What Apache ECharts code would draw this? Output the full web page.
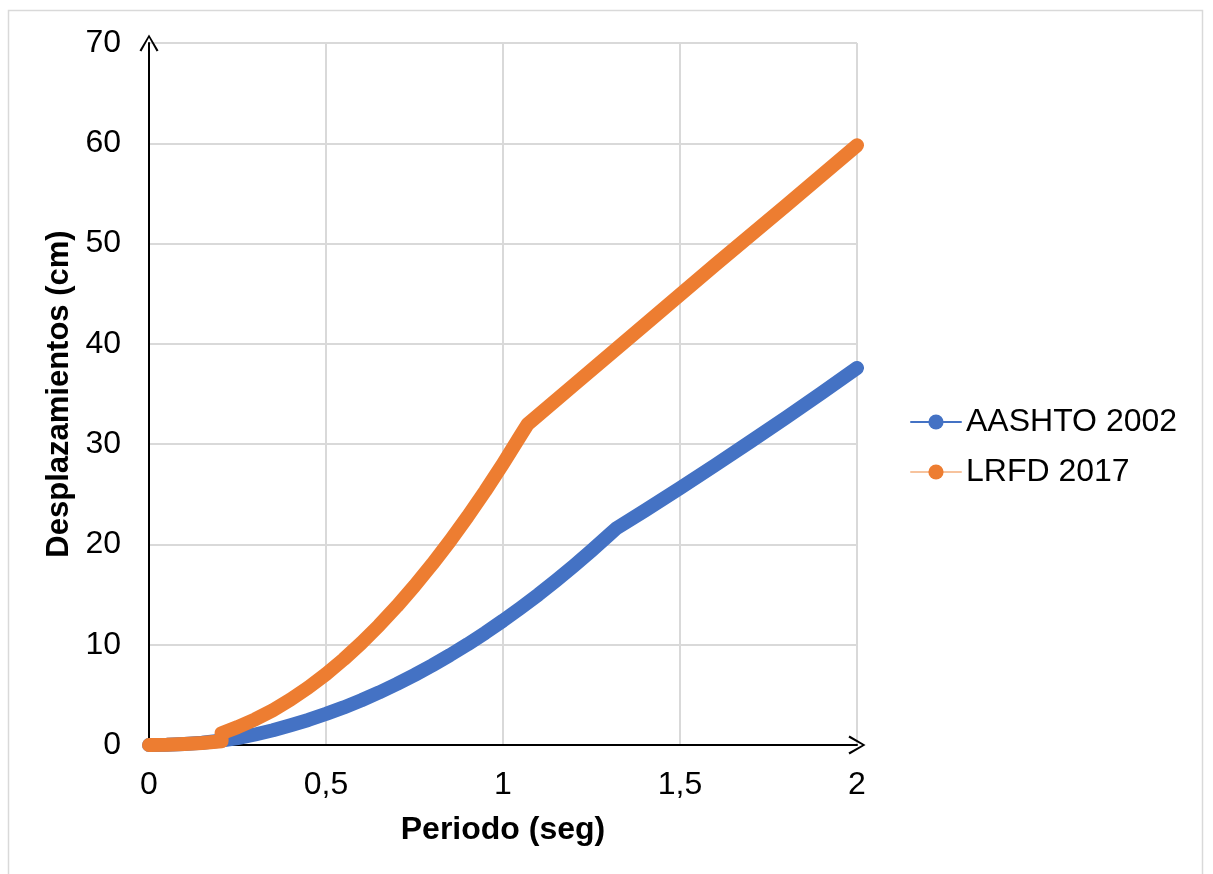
<!DOCTYPE html>
<html>
<head>
<meta charset="utf-8">
<title>Desplazamientos vs Periodo</title>
<script src="https://cdn.jsdelivr.net/npm/echarts@6/dist/echarts.min.js"></script>
<style>
  html, body { margin: 0; padding: 0; background: #ffffff; }
  #chart { width: 1213px; height: 874px; }
</style>
</head>
<body>
<div id="chart"></div>
<script>
// Spectral displacement (cm) against structural period (s)
const seriesNames = ['AASHTO 2002', 'LRFD 2017'];

const aashtoPeriod = [0, 0.05, 0.1, 0.15, 0.2, 0.25, 0.3, 0.35, 0.4, 0.45, 0.5, 0.55, 0.6, 0.65, 0.7, 0.75,
  0.8, 0.85, 0.9, 0.95, 1.0, 1.05, 1.1, 1.15, 1.2, 1.25, 1.3, 1.32, 1.4, 1.5, 1.6, 1.7, 1.8, 1.9, 2.0];
const aashtoDispl = [0, 0.03, 0.1, 0.22, 0.42, 0.68, 1.05, 1.47, 1.97, 2.5, 3.1, 3.75, 4.46, 5.24, 6.08, 6.98,
  7.94, 8.96, 10.04, 11.19, 12.4, 13.67, 15.0, 16.4, 17.86, 19.38, 20.96, 21.6, 23.36, 25.61, 27.92, 30.27, 32.66, 35.1, 37.6];

const lrfdPeriod = [0, 0.05, 0.1, 0.15, 0.205, 0.205, 0.25, 0.3, 0.35, 0.4, 0.45, 0.5, 0.55, 0.6, 0.65, 0.7, 0.75,
  0.8, 0.85, 0.9, 0.95, 1.0, 1.05, 1.07, 1.2, 1.4, 1.6, 1.8, 2.0];
const lrfdDispl = [0, 0.03, 0.1, 0.2, 0.38, 1.17, 1.78, 2.56, 3.47, 4.53, 5.73, 7.07, 8.55, 10.17, 11.93, 13.83, 15.86,
  18.03, 20.33, 22.77, 25.34, 28.05, 30.88, 32.0, 35.9, 41.9, 47.9, 53.8, 59.8];

const xTickValues = [0, 0.5, 1, 1.5, 2];
const xTickLabels = ['0', '0,5', '1', '1,5', '2'];

const xTitle = 'Periodo (seg)';
const yTitle = 'Desplazamientos (cm)';

const colors = ['#4472C4', '#ED7D31'];
const legendLineColors = ['#4472C4', '#F7C39D'];

const font = '"Liberation Sans", Arial, sans-serif';

function pairs(xs, ys) {
  return xs.map((x, i) => [x, ys[i]]);
}

// open chevron used for the axis arrow heads
const chevron = 'path://M10,0 L20,16.8 L18,18 L10,3.6 L2,18 L0,16.8 Z';

const chart = echarts.init(document.getElementById('chart'), null, { renderer: 'canvas' });

chart.setOption({
  backgroundColor: '#ffffff',
  animation: false,
  graphic: [{
    type: 'rect',
    shape: { x: 8.5, y: 10.5, width: 1194, height: 900 },
    style: { fill: 'none', stroke: '#d9d9d9', lineWidth: 1.5 },
    silent: true,
    z: -10
  }],
  grid: { left: 149, right: 356, top: 43, bottom: 129, containLabel: false },
  legend: {
    orient: 'vertical',
    left: 905,
    top: 401,
    itemWidth: 50,
    itemHeight: 19,
    itemGap: 18,
    textStyle: { fontFamily: font, fontSize: 32, color: '#000' },
    data: seriesNames.map((n, i) => ({
      name: n,
      lineStyle: { color: legendLineColors[i], width: 2 },
      itemStyle: { color: colors[i] }
    }))
  },
  xAxis: {
    type: 'value',
    min: 0,
    max: 2,
    interval: 0.5,
    name: xTitle,
    nameLocation: 'middle',
    nameGap: 69,
    nameTextStyle: { fontFamily: font, fontSize: 32, fontWeight: 'bold', color: '#000' },
    axisLine: {
      show: true,
      onZero: false,
      lineStyle: { color: '#000', width: 2 },
      symbol: ['none', chevron],
      symbolSize: [19, 18],
      symbolOffset: [0, 0]
    },
    axisTick: { show: false },
    axisLabel: {
      margin: 24,
      fontFamily: font, fontSize: 32, color: '#000',
      formatter: v => {
        const i = xTickValues.findIndex(t => Math.abs(t - v) < 1e-9);
        return i >= 0 ? xTickLabels[i] : '';
      }
    },
    splitLine: { show: true, lineStyle: { color: '#d9d9d9', width: 2 } }
  },
  yAxis: {
    type: 'value',
    min: 0,
    max: 70,
    interval: 10,
    name: yTitle,
    nameLocation: 'middle',
    nameGap: 72,
    nameTextStyle: { fontFamily: font, fontSize: 31, fontWeight: 'bold', color: '#000' },
    axisLine: {
      show: true,
      onZero: false,
      lineStyle: { color: '#000', width: 2 },
      symbol: ['none', chevron],
      symbolSize: [19, 18],
      symbolOffset: [0, 0]
    },
    axisTick: { show: false },
    axisLabel: { margin: 28, fontFamily: font, fontSize: 32, color: '#000' },
    splitLine: { show: true, lineStyle: { color: '#d9d9d9', width: 2 } }
  },
  series: [
    {
      name: seriesNames[0],
      type: 'line',
      data: pairs(aashtoPeriod, aashtoDispl),
      symbol: 'circle',
      showSymbol: false,
      clip: false,
      color: colors[0],
      lineStyle: { color: colors[0], width: 14, cap: 'round', join: 'round' },
      z: 3
    },
    {
      name: seriesNames[1],
      type: 'line',
      data: pairs(lrfdPeriod, lrfdDispl),
      symbol: 'circle',
      showSymbol: false,
      clip: false,
      color: colors[1],
      lineStyle: { color: colors[1], width: 14, cap: 'round', join: 'round' },
      z: 4
    }
  ]
});
</script>
</body>
</html>
